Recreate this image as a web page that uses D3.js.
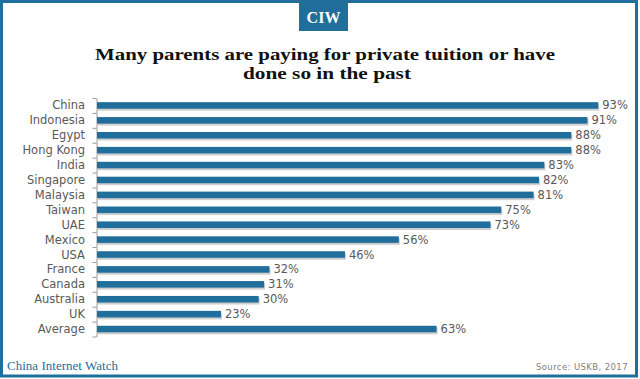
<!DOCTYPE html>
<html>
<head>
<meta charset="utf-8">
<script src="https://cdn.jsdelivr.net/npm/d3@7"></script>
<style>
  html, body { margin: 0; padding: 0; background: #fff; }
  svg { display: block; }
</style>
</head>
<body>
<svg id="chart" width="640" height="379"></svg>
<script>
const categories = ["China","Indonesia","Egypt","Hong Kong","India","Singapore","Malaysia","Taiwan","UAE","Mexico","USA","France","Canada","Australia","UK","Average"];
const values = [93,91,88,88,83,82,81,75,73,56,46,32,31,30,23,63];
const titleLines = ["Many parents are paying for private tuition or have","done so in the past"];
const logoText = "CIW";
const footerLeft = "China Internet Watch";
const footerRight = "Source: USKB, 2017";

const blue = "#1f6e9c";
const svg = d3.select("#chart");

// frame
svg.append("rect").attr("x", 1.5).attr("y", 1.5).attr("width", 635).attr("height", 374.5)
  .attr("fill", "none").attr("stroke", blue).attr("stroke-width", 3);

// logo
svg.append("rect").attr("x", 299).attr("y", 2).attr("width", 49).attr("height", 29).attr("fill", blue);
svg.append("text").attr("x", 323.5).attr("y", 23).attr("text-anchor", "middle")
  .attr("font-family", "Liberation Serif, serif").attr("font-weight", "bold").attr("font-size", 16)
  .attr("fill", "#fff").text(logoText);

// title
svg.append("text").attr("x", 325).attr("y", 59.5).attr("text-anchor", "middle")
  .attr("font-family", "Liberation Serif, serif").attr("font-weight", "bold").attr("font-size", 16.5)
  .attr("fill", "#111").attr("textLength", 460).attr("lengthAdjust", "spacingAndGlyphs")
  .text(titleLines[0]);
svg.append("text").attr("x", 327).attr("y", 78.5).attr("text-anchor", "middle")
  .attr("font-family", "Liberation Serif, serif").attr("font-weight", "bold").attr("font-size", 16.5)
  .attr("fill", "#111").attr("textLength", 168).attr("lengthAdjust", "spacingAndGlyphs")
  .text(titleLines[1]);

// scales
const x = d3.scaleLinear().domain([0, 100]).range([97, 636]);
const y = d3.scaleBand().domain(categories).range([98, 336.5]).paddingInner(0.56).paddingOuter(0.28);

// axis with ticks at band boundaries
const idx = d3.scaleLinear().domain([0, categories.length]).range([98, 336.5]);
const axis = d3.axisLeft(idx).tickValues(d3.range(categories.length + 1)).tickFormat("").tickSize(4).tickSizeOuter(0);
const gAxis = svg.append("g").attr("transform", `translate(${x(0) - 0.5},0)`).call(axis);
gAxis.selectAll("line,path").attr("stroke", "#9a9a9a").attr("stroke-width", 1);

// shadows
svg.append("g").selectAll("rect").data(values).join("rect")
  .attr("x", x(0)).attr("y", (d, i) => y(categories[i]) + 2)
  .attr("width", d => x(d) - x(0) + 1).attr("height", y.bandwidth())
  .attr("fill", "#cfcfcf");

// bars
svg.append("g").selectAll("rect").data(values).join("rect")
  .attr("x", x(0)).attr("y", (d, i) => y(categories[i]))
  .attr("width", d => x(d) - x(0)).attr("height", y.bandwidth())
  .attr("fill", blue);

// category labels
svg.append("g").selectAll("text").data(categories).join("text")
  .attr("x", 85).attr("y", d => y(d) + y.bandwidth() / 2 + 4)
  .attr("text-anchor", "end").attr("font-family", "DejaVu Sans, sans-serif").attr("font-size", 11.5)
  .attr("fill", "#595959").text(d => d);

// value labels
svg.append("g").selectAll("text").data(values).join("text")
  .attr("x", d => x(d) + 4).attr("y", (d, i) => y(categories[i]) + y.bandwidth() / 2 + 4)
  .attr("font-family", "DejaVu Sans, sans-serif").attr("font-size", 11.5)
  .attr("fill", "#595959").text(d => d + "%");

// footer
svg.append("text").attr("x", 7).attr("y", 370)
  .attr("font-family", "Liberation Serif, serif").attr("font-size", 13)
  .attr("fill", blue).attr("textLength", 111).attr("lengthAdjust", "spacingAndGlyphs").text(footerLeft);
svg.append("text").attr("x", 628).attr("y", 370).attr("text-anchor", "end")
  .attr("font-family", "DejaVu Sans, sans-serif").attr("font-size", 8.5)
  .attr("fill", "#808080").attr("letter-spacing", 0.4).text(footerRight);
</script>
</body>
</html>
